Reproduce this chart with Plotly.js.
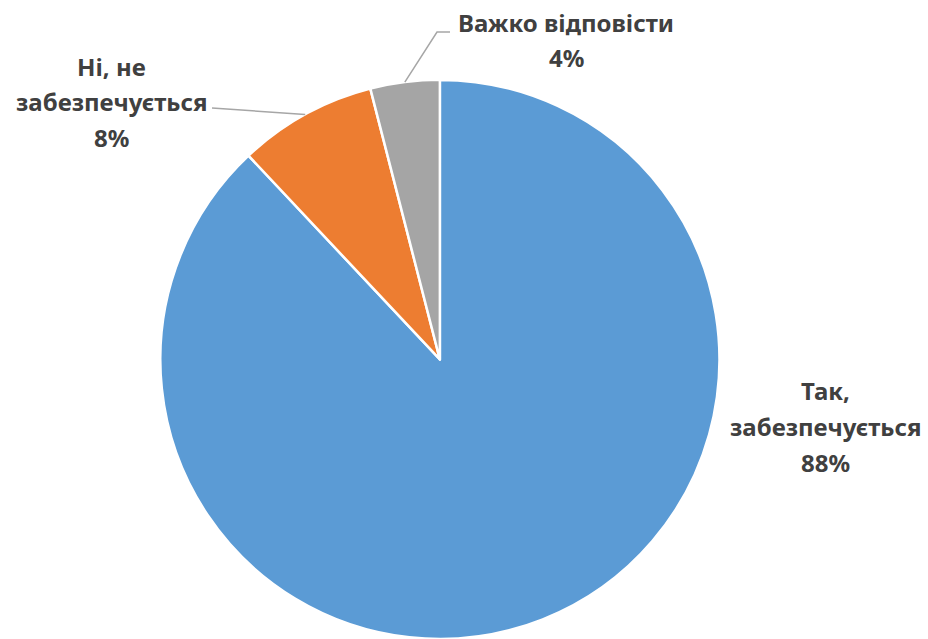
<!DOCTYPE html>
<html><head><meta charset="utf-8">
<script src="https://cdn.plot.ly/plotly-3.0.1.min.js"></script>
<style>html,body{margin:0;padding:0;background:#fff}#chart{width:928px;height:639px}</style>
</head><body><div id="chart"></div>
<script>
const categories = ["Так, забезпечується", "Ні, не забезпечується", "Важко відповісти"];
const values = [88, 8, 4];
const labelLines = [["Так,", "забезпечується", "88%"], ["Ні, не", "забезпечується", "8%"], ["Важко відповісти", "4%"]];
const colors = ["#5B9BD5", "#ED7D31", "#A5A5A5"];

const W = 928, H = 639;
const dom = {x: [0.124, 0.824], y: [0, 0.875]};
const cx = (dom.x[0] + dom.x[1]) / 2 * W;
const cy = H - (dom.y[0] + dom.y[1]) / 2 * H;
const R = Math.min((dom.x[1]-dom.x[0]) * W, (dom.y[1]-dom.y[0]) * H) / 2;
const px = x => x / W, py = y => 1 - y / H;

// mid angles of slices (clockwise from 12 o'clock)
const total = values.reduce((a, b) => a + b, 0);
let acc = 0;
const mids = values.map(v => { const m = (acc + v / 2) / total * 2 * Math.PI; acc += v; return m; });
const edge = mids.map(a => [cx + R * Math.sin(a), cy - R * Math.cos(a)]);

// label block placement (centre x, first-line y) in pixels
const labelPos = [[825, 391], [111, 66], [566, 22]];
const lineGap = 35.5;
const font = {family: "Noto Sans, Open Sans, sans-serif", size: 24, color: "#404040", weight: 700};
const annotations = [];
labelLines.forEach((lines, i) => {
  lines.forEach((t, j) => {
    annotations.push({xref: "paper", yref: "paper", x: px(labelPos[i][0]), y: py(labelPos[i][1] + j * lineGap),
      text: "<b>" + t + "</b>", showarrow: false, xanchor: "center", yanchor: "middle", font: font});
  });
});

// leader lines for the small slices
const shapes = [];
shapes.push({type: "path", xref: "paper", yref: "paper",
  path: `M ${px(edge[1][0])} ${py(edge[1][1])} L ${px(212)} ${py(108)}`,
  line: {color: "#A6A6A6", width: 1.5}});
shapes.push({type: "path", xref: "paper", yref: "paper",
  path: `M ${px(edge[2][0])} ${py(edge[2][1])} L ${px(437)} ${py(32)} L ${px(450)} ${py(32)}`,
  line: {color: "#A6A6A6", width: 1.5}});

Plotly.newPlot("chart", [{
  type: "pie", labels: categories, values: values, sort: false, direction: "clockwise", rotation: 0,
  marker: {colors: colors, line: {color: "#FFFFFF", width: 2.5}},
  textinfo: "none", hoverinfo: "label+percent", domain: dom, showlegend: false
}], {
  width: W, height: H, margin: {l: 0, r: 0, t: 0, b: 0},
  paper_bgcolor: "#FFFFFF", showlegend: false, annotations: annotations, shapes: shapes
}, {displayModeBar: false, staticPlot: true});
</script></body></html>
